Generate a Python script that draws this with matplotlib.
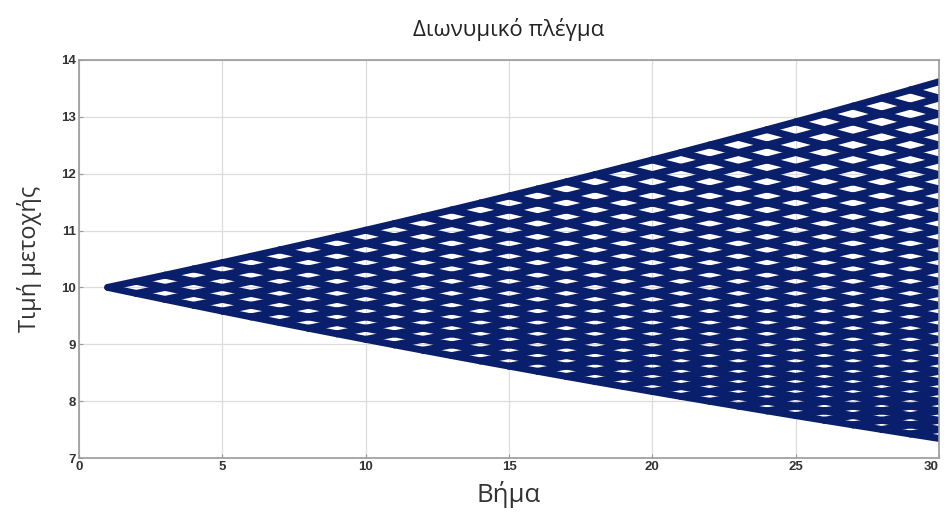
import numpy as np
import matplotlib.pyplot as plt

# binomial lattice parameters
S0 = 10.0
u = 1.0107
d = 1 / u
first_step = 1
last_step = 30

title = "Διωνυμικό πλέγμα"
xlabel = "Βήμα"
ylabel = "Τιμή μετοχής"
xticks = [0, 5, 10, 15, 20, 25, 30]
yticks = [7, 8, 9, 10, 11, 12, 13, 14]

navy = "#0a1f6b"

fig = plt.figure(figsize=(9.44, 5.17), dpi=100)
ax = fig.add_axes([0.0837, 0.1141, 0.9110, 0.7700])

n = last_step - first_step
for i in range(n):
    x0 = first_step + i
    for j in range(i + 1):
        s = S0 * u ** (i - j) * d ** j
        ax.plot([x0, x0 + 1], [s, s * u], color=navy, lw=5.0, solid_capstyle="round")
        ax.plot([x0, x0 + 1], [s, s * d], color=navy, lw=5.0, solid_capstyle="round")

ax.set_xlim(0, 30)
ax.set_ylim(7, 14)
ax.set_xticks(xticks)
ax.set_yticks(yticks)
ax.grid(True, color="#dcdcdc", lw=0.9)
ax.set_axisbelow(True)
for sp in ax.spines.values():
    sp.set_color("#9a9a9a")
    sp.set_linewidth(1.2)
ax.tick_params(direction="in", length=3, color="#9a9a9a", pad=2, labelsize=9.5)
for lab in ax.get_xticklabels() + ax.get_yticklabels():
    lab.set_fontweight("bold")
    lab.set_family(["Liberation Sans Narrow", "Liberation Sans"])
    lab.set_color("#333333")
# the last x label sits on the figure edge, as in the original
ax.get_xticklabels()[-1].set_horizontalalignment("right")

ax.set_title(title, fontsize=16, family="Open Sans", pad=17, color="#222222")
ax.set_xlabel(xlabel, fontsize=18.5, family="Open Sans", color="#333333", labelpad=6)
ax.set_ylabel(ylabel, fontsize=17, family="Open Sans", color="#333333", labelpad=14)

fig.savefig("out.png", dpi=100)
